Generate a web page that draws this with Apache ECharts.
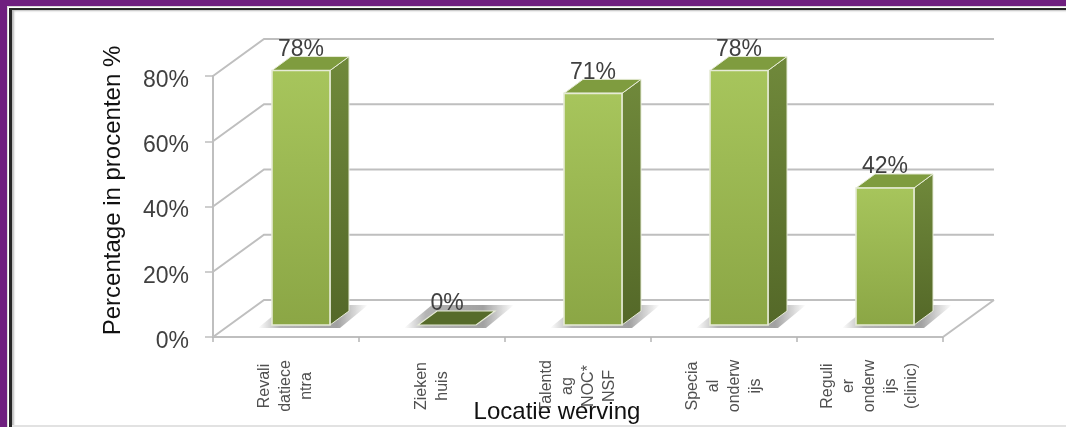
<!DOCTYPE html>
<html>
<head>
<meta charset="utf-8">
<script src="https://cdn.jsdelivr.net/npm/echarts@6/dist/echarts.min.js"></script>
<style>
html,body{margin:0;padding:0;width:1066px;height:427px;overflow:hidden;background:#6f1f7f}
#frame{position:absolute;left:7px;top:6px;width:1059px;height:421px;box-sizing:border-box;
  border-left:1.5px solid #d8d8d8;border-top:1.5px solid #d8d8d8;background:#fff}
#inner{position:absolute;left:1px;top:1px;right:0;bottom:0;box-sizing:border-box;
  border-left:3px solid #262626;border-top:2.5px solid #262626;box-shadow:inset 2px 1px 2px #bbb}
#edge{position:absolute;left:12px;right:0;top:425px;height:2px;background:#e2e2e2}
#chart{position:absolute;left:0;top:0;width:1066px;height:427px;filter:blur(0.55px)}
</style>
</head>
<body>
<div id="frame"><div id="inner"></div></div>
<div id="edge"></div>
<div id="chart"></div>
<script>
var categories = ['Revali\ndatiece\nntra', 'Zieken\nhuis', 'Talentd\nag\nNOC*\nNSF', 'Specia\nal\nonderw\nijs', 'Reguli\ner\nonderw\nijs\n(clinic)'];
var values = [78, 0, 71, 78, 42];
var yTicks = [0, 20, 40, 60, 80];
var yAxisName = 'Percentage in procenten %';
var xAxisName = 'Locatie werving';

var chart = echarts.init(document.getElementById('chart'));

var WALL_DX = 51, WALL_DY = 37;      // depth of the side wall
var BAR_DX = 19, BAR_DY = 14;        // depth of a bar
var BAR_SHIFT_X = 15, BAR_SHIFT_Y = 12; // bar footprint inside the floor
var BAR_W = 58;

function lg(c1, c2) {
  return new echarts.graphic.LinearGradient(0, 0, 0, 1, [{offset: 0, color: c1}, {offset: 1, color: c2}]);
}

function renderWall(params, api) {
  var cs = params.coordSys;
  var y = api.coord([0, api.value(0)])[1];
  var x0 = cs.x, x1 = cs.x + cs.width;
  return {
    type: 'polyline',
    shape: {points: [[x0, y], [x0 + WALL_DX, y - WALL_DY], [x1 + WALL_DX, y - WALL_DY]]},
    style: {fill: null, stroke: '#bfbfbf', lineWidth: 2}
  };
}

function renderFloorEdge(params, api) {
  var cs = params.coordSys;
  var x1 = cs.x + cs.width, y = cs.y + cs.height;
  return {
    type: 'line',
    shape: {x1: x1, y1: y, x2: x1 + WALL_DX, y2: y - WALL_DY},
    style: {stroke: '#bfbfbf', lineWidth: 2}
  };
}

function renderBar(params, api) {
  var v = api.value(1);
  var p0 = api.coord([api.value(0), 0]);
  var pv = api.coord([api.value(0), v]);
  var h = p0[1] - pv[1];
  var l = p0[0] + BAR_SHIFT_X - BAR_W / 2;
  var r = l + BAR_W;
  var b = p0[1] - BAR_SHIFT_Y;
  var t = b - h;
  var edge = '#e6ebd6';
  var kids = [];
  // soft floor shadow
  kids.push({
    type: 'polygon',
    shape: {points: [[l - 14, b + 3], [r + 10, b + 3], [r + 38, b - 20], [l + 14, b - 20]]},
    style: {fill: new echarts.graphic.LinearGradient(0, 0, 1, 0, [
      {offset: 0, color: 'rgba(130,130,130,0)'},
      {offset: 0.2, color: 'rgba(130,130,130,0.6)'},
      {offset: 0.72, color: 'rgba(130,130,130,0.75)'},
      {offset: 1, color: 'rgba(130,130,130,0)'}
    ])}
  });
  if (h > 0) {
    kids.push({type: 'polygon',
      shape: {points: [[r, t], [r + BAR_DX, t - BAR_DY], [r + BAR_DX, b - BAR_DY], [r, b]]},
      style: {fill: lg('#70893b', '#546828'), stroke: edge, lineWidth: 1}});
    kids.push({type: 'polygon',
      shape: {points: [[l, t], [l + BAR_DX, t - BAR_DY], [r + BAR_DX, t - BAR_DY], [r, t]]},
      style: {fill: '#7f9c3f', stroke: edge, lineWidth: 1}});
    kids.push({type: 'rect',
      shape: {x: l, y: t, width: BAR_W, height: h},
      style: {fill: lg('#a7c55c', '#8ba645'), stroke: edge, lineWidth: 1.6}});
  } else {
    kids.push({type: 'polygon',
      shape: {points: [[l, t], [l + BAR_DX, t - BAR_DY], [r + BAR_DX, t - BAR_DY], [r, t]]},
      style: {fill: '#566b2a', stroke: edge, lineWidth: 1.2}});
  }
  kids.push({type: 'text', style: {
    x: (l + r) / 2, y: t - 21, text: v + '%',
    fill: '#404040', font: '23px "Liberation Sans", Arial, sans-serif',
    align: 'center', verticalAlign: 'middle'
  }});
  return {type: 'group', children: kids};
}

chart.setOption({
  animation: false,
  backgroundColor: 'transparent',
  textStyle: {fontFamily: '"Liberation Sans", Arial, sans-serif'},
  grid: {left: 213, right: 123, top: 76, bottom: 90, outerBoundsMode: 'none'},
  xAxis: {
    type: 'category',
    data: categories,
    name: xAxisName,
    nameLocation: 'middle',
    nameGap: 63,
    nameMoveOverlap: false,
    nameTextStyle: {fontSize: 24, color: '#111', padding: [0, 42, 0, 0]},
    axisLine: {lineStyle: {color: '#bfbfbf', width: 2}},
    axisTick: {show: true, length: 5, lineStyle: {color: '#b5b5b5', width: 1.5}},
    axisLabel: {
      interval: 0, rotate: 90, fontSize: 16, lineHeight: 21, color: '#505050',
      margin: 49, align: 'center', verticalAlign: 'middle', hideOverlap: false
    }
  },
  yAxis: {
    type: 'value',
    min: 0, max: 80, interval: 20,
    name: yAxisName,
    nameLocation: 'middle',
    nameGap: 88,
    nameRotate: 90,
    nameMoveOverlap: false,
    nameTextStyle: {fontSize: 24, color: '#111', padding: [0, 0, 0, 32]},
    splitLine: {show: false},
    axisLine: {show: true, lineStyle: {color: '#bfbfbf', width: 2}},
    axisTick: {show: true, length: 8, lineStyle: {color: '#bfbfbf', width: 1.5}},
    axisLabel: {
      margin: 24,
      formatter: '{a|{value}%}',
      rich: {a: {fontSize: 23, color: '#404040', padding: [9, 0, 0, 0]}}
    }
  },
  series: [
    {type: 'custom', coordinateSystem: 'cartesian2d', silent: true, z: 1,
     data: yTicks.map(function (t) { return [t]; }), encode: {y: 0}, renderItem: renderWall},
    {type: 'custom', coordinateSystem: 'cartesian2d', silent: true, z: 1,
     data: [[0]], encode: {y: 0}, renderItem: renderFloorEdge},
    {type: 'custom', coordinateSystem: 'cartesian2d', silent: true, z: 2,
     data: values.map(function (v, i) { return [i, v]; }),
     encode: {x: 0, y: 1}, renderItem: renderBar}
  ]
});
</script>
</body>
</html>
